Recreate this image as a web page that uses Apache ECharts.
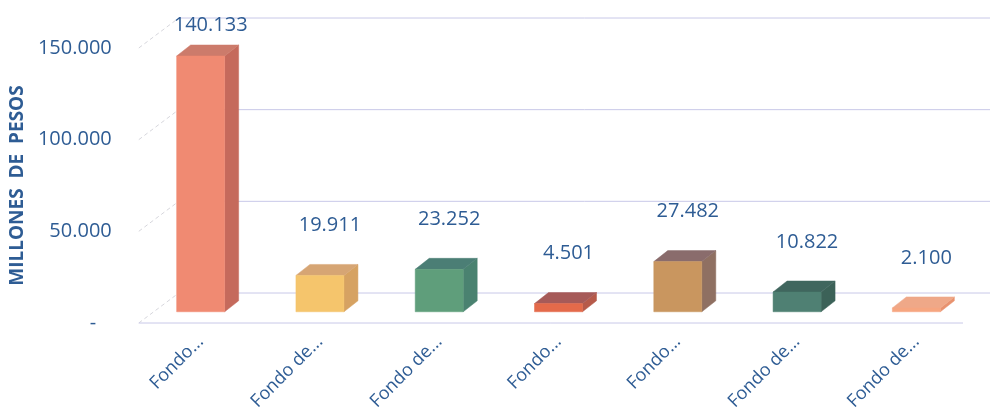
<!DOCTYPE html>
<html>
<head>
<meta charset="utf-8">
<script src="https://cdn.jsdelivr.net/npm/echarts@6/dist/echarts.min.js"></script>
<style>
  html, body { margin: 0; padding: 0; background: #fff; }
  #chart { width: 992px; height: 413px; }
</style>
</head>
<body>
<div id="chart"></div>
<script>
  // datos
  var categories = ['Fondo...', 'Fondo de...', 'Fondo de...', 'Fondo...', 'Fondo...', 'Fondo de...', 'Fondo de...']
  var values = [140133, 19911, 23252, 4501, 27482, 10822, 2100]
  var yTicks = [0, 50000, 100000, 150000]

  // colores de cada caja: frente, lado, tapa
  var frontColors = ['#f08a72', '#f5c56c', '#5f9e7b', '#e46a4a', '#c9965f', '#4f8073', '#f6a680']
  var sideColors = ['#c56a5c', '#d6a262', '#4a8270', '#b65a4a', '#8f7062', '#3c6258', '#e8926f']
  var topColors = ['#cc7b6b', '#d6a574', '#4b7e75', '#a65a58', '#8a6c6c', '#40665e', '#efa888']

  var textColor = '#2e5c94'
  var font = '"Open Sans", sans-serif'

  function fmt(v) {
    if (v === 0) return '-   '
    return String(v).replace(/\B(?=(\d{3})+(?!\d))/g, '.')
  }

  var chart = echarts.init(document.getElementById('chart'))

  // profundidad de la caja y de la pared del fondo
  var boxDx = 14, boxDy = -11
  var wallDx = 40, wallDy = -30

  function renderWall(params, api) {
    var cs = params.coordSys
    var y = api.coord([0, api.value(1)])[1]
    var left = cs.x, right = cs.x + cs.width
    var children = [{
      type: 'polyline',
      shape: { points: [[left, y], [left + wallDx, y + wallDy]] },
      style: { stroke: '#d6d6dc', lineWidth: 1, lineDash: [4, 3], fill: null }
    }, {
      type: 'polyline',
      shape: { points: [[left + wallDx, y + wallDy], [right + 27, y + wallDy]] },
      style: { stroke: '#c8c8e8', lineWidth: 1, fill: null }
    }]
    if (api.value(1) === 0) {
      children.push({
        type: 'polyline',
        shape: { points: [[left, y], [right, y]] },
        style: { stroke: '#c8c8e8', lineWidth: 1, fill: null }
      })
    }
    return { type: 'group', children: children }
  }

  function renderBox(params, api) {
    var i = params.dataIndex
    var base = api.coord([api.value(0), 0])
    var top = api.coord([api.value(0), api.value(1)])
    var w = 48
    var x = base[0] - w / 2
    var yb = base[1], yt = top[1]
    var labelY = Math.max(25, yt - 50)
    return {
      type: 'group',
      children: [{
        type: 'polygon',
        shape: { points: [[x + w, yt], [x + w + boxDx, yt + boxDy], [x + w + boxDx, yb + boxDy], [x + w, yb]] },
        style: { fill: sideColors[i], stroke: sideColors[i], lineWidth: 0.5 }
      }, {
        type: 'polygon',
        shape: { points: [[x, yt], [x + boxDx, yt + boxDy], [x + w + boxDx, yt + boxDy], [x + w, yt]] },
        style: { fill: topColors[i], stroke: topColors[i], lineWidth: 0.5 }
      }, {
        type: 'rect',
        shape: { x: x, y: yt, width: w, height: yb - yt },
        style: { fill: frontColors[i], stroke: frontColors[i], lineWidth: 0.5 }
      }, {
        type: 'text',
        x: base[0] + boxDx / 2 + 3,
        y: labelY,
        style: {
          text: fmt(api.value(1)),
          fill: textColor,
          font: '20px ' + font,
          align: 'center',
          verticalAlign: 'middle'
        }
      }]
    }
  }

  chart.setOption({
    animation: false,
    grid: [
      { left: 128, right: 29, top: 48, bottom: 90 },   // plano frontal
      { left: 141, right: 16, top: 38, bottom: 100 }   // plano de las barras
    ],
    xAxis: [{
      gridIndex: 0,
      type: 'category',
      data: categories,
      show: false
    }, {
      gridIndex: 1,
      type: 'category',
      data: categories,
      axisLine: { show: false },
      axisTick: { show: false },
      axisLabel: {
        rotate: 45,
        margin: 27,
        color: textColor,
        fontSize: 18,
        fontFamily: font
      }
    }],
    yAxis: [{
      gridIndex: 0,
      type: 'value',
      min: 0,
      max: 150000,
      interval: 50000,
      name: 'MILLONES  DE  PESOS',
      nameLocation: 'middle',
      nameRotate: 90,
      nameGap: 108,
      nameTextStyle: { color: textColor, fontSize: 19, fontWeight: 'bold', fontFamily: font },
      axisLine: { show: false },
      axisTick: { show: false },
      splitLine: { show: false },
      axisLabel: {
        margin: 27,
        color: textColor,
        fontSize: 20,
        fontFamily: font,
        formatter: fmt
      }
    }, {
      gridIndex: 1,
      type: 'value',
      min: 0,
      max: 150000,
      interval: 50000,
      show: false,
      splitLine: { show: false }
    }],
    series: [{
      type: 'custom',
      xAxisIndex: 0,
      yAxisIndex: 0,
      renderItem: renderWall,
      data: yTicks.map(function (v) { return [0, v] }),
      silent: true,
      z: 1
    }, {
      type: 'custom',
      xAxisIndex: 1,
      yAxisIndex: 1,
      renderItem: renderBox,
      data: values.map(function (v, i) { return [i, v] }),
      z: 2
    }]
  })
</script>
</body>
</html>
